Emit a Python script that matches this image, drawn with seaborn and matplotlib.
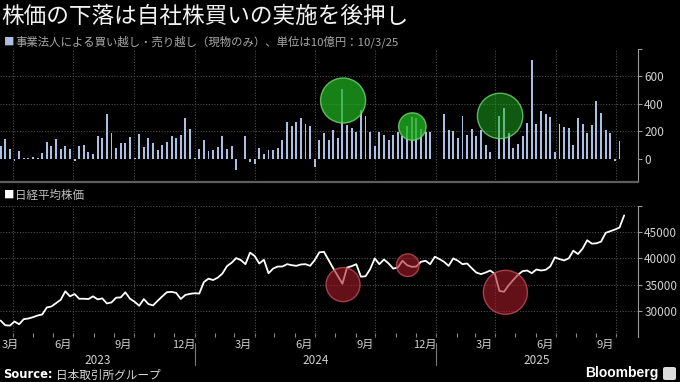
import numpy as np
import pandas as pd
import matplotlib
matplotlib.use("Agg")
import matplotlib.pyplot as plt
import matplotlib.dates as mdates
from matplotlib.patches import FancyBboxPatch
import seaborn as sns

sns.set_theme(style="dark")
plt.rcParams["font.family"] = ["Noto Sans CJK JP", "DejaVu Sans"]

# ---------------- data ----------------
start_date = "2023-03-13"
# weekly net buying by corporates (cash), 10 bn yen
net_buy = [90, 145, 73, -19, 53, 8, 5, 15, 6, 44, 119, 94, 145, 70, 94, 68, -19, 90, 97, 48,
           36, 162, 148, 327, 189, 75, 114, 114, 155, 5, 177, 82, 152, 114, 60,
           102, 121, 162, 150, 172, 295, 213, 2, 68, 136, 53, 61, 85, 162, 68, 94, -85, 0, 162,
           -24, -36, 77, 36, 61, 61, 77, 138, 264, 235, 264, 295, 254, 235, -60, 133,
           186, 138, 211, 152, 508, 242, 225, 194, 356, 312, 194, 90, 191, 169, 133, 172, 191,
           162, 235, 303, 298, 215, 194, 191, 0, 0, 327, 211, 201, 152, 307, 169, 213, 162,
           206, 102, 48, 0, 312, 370, 189, 80, 109, 162, 261, 714, 249, 348, 324, 300, 48, 249,
           230, 220, 97, 293, 249, 186, 242, 419, 332, 211, 186, -19, 128]
# Nikkei 225 weekly
nikkei = [28140, 27240, 27180, 27950, 27440, 28400, 28530, 28780, 29100, 29300, 30640, 30830,
          31470, 32100, 33720, 32760, 33200, 32300, 32300, 32240, 32760, 32180, 32370, 31410,
          31600, 32500, 32560, 33530, 32300, 31730, 30960, 32240, 31280, 31030, 31920, 32760,
          33550, 33610, 33420, 32260, 33030, 33230, 33350, 33290, 35480, 36130, 35870, 36320,
          37100, 38520, 39160, 40060, 39680, 38900, 41100, 40450, 39030, 39740, 37160, 38060,
          38450, 38450, 38900, 38710, 38580, 38840, 38900, 38580, 39680, 41160,
          41250, 39680, 38130, 36650, 35160, 38260, 38520, 38900, 36520, 36580, 37940, 40000,
          38900, 39800, 39030, 38060, 38260, 39550, 38710, 38390, 38450, 39350, 39550, 38900,
          40320, 39870, 39350, 38580, 40000, 39550, 38900, 39030, 38130, 37290, 37000,
          37300, 37690, 37050, 33780, 33650, 34870, 35900, 36860, 37560, 37690, 37180, 37880,
          37690, 37820, 38460, 40190, 39870, 39620, 40000, 41470, 40830, 41860, 43460, 42820,
          42880, 43200, 44870, 45190, 45510, 45900, 48200]

buy_hl_dates = ["2024-08-13", "2024-11-26", "2025-04-08"]
buy_hl_values = [422, 233, 310]
px_hl_dates = ["2024-08-13", "2024-11-19", "2025-04-16"]
px_hl_values = [35000, 38700, 33530]

buy_ticks = [0, 200, 400, 600, 800]
buy_ticklabels = ["0", "200", "400", "600", ""]
px_ticks = [30000, 35000, 40000, 45000, 50000]
px_ticklabels = ["30000", "35000", "40000", "45000", ""]

title = "株価の下落は自社株買いの実施を後押し"
subtitle = "事業法人による買い越し・売り越し（現物のみ）、単位は10億円：10/3/25"
legend_px = "日経平均株価"
source = "日本取引所グループ"

# ---------------- styles ----------------
BG = "black"
BAR_C = "#a9bfe3"
GRID_C = "#4d4d4d"
TXT_C = "#d0d0d0"
buy_hl_r = [22.5, 13.7, 22.7]          # radii in px
buy_hl_alpha = [0.72, 0.78, 0.5]
px_hl_r = [17, 11.3, 22]
px_hl_alpha = [0.6, 0.6, 0.6]

W, H = 680, 382
def fx(p): return p / W
def fy(p): return 1 - p / H
def r2s(r): return (2 * r * 72 / 100) ** 2

dates = pd.date_range(start_date, periods=len(nikkei), freq="7D")
xnum = mdates.date2num(dates)
xlim = (mdates.date2num(pd.Timestamp("2023-03-12")), mdates.date2num(pd.Timestamp("2025-11-03")))

fig = plt.figure(figsize=(6.8, 3.82), dpi=100, facecolor=BG)
ax_top = fig.add_axes([0, fy(182), fx(638), fy(48.5) - fy(182)])
ax_bot = fig.add_axes([0, fy(337), fx(638), fy(206) - fy(337)])

df_bar = pd.DataFrame({"x": xnum[:len(net_buy)], "v": net_buy})
sns.barplot(data=df_bar, x="x", y="v", native_scale=True, width=0.42, color=BAR_C,
            saturation=1, errorbar=None, linewidth=0, ax=ax_top, zorder=3)

df_line = pd.DataFrame({"x": xnum, "v": nikkei})
sns.lineplot(data=df_line, x="x", y="v", color="white", lw=1.3, ax=ax_bot, zorder=3)

# highlight circles
gface = [(0.13, 0.70, 0.13, a) for a in buy_hl_alpha]
ax_top.scatter(mdates.date2num(pd.to_datetime(buy_hl_dates)), buy_hl_values,
               s=[r2s(r) for r in buy_hl_r], facecolors=gface,
               edgecolors=[(0.45, 0.85, 0.45, 0.8)] * 3, linewidths=1.0, zorder=5)
rface = [(0.66, 0.11, 0.16, a) for a in px_hl_alpha]
ax_bot.scatter(mdates.date2num(pd.to_datetime(px_hl_dates)), px_hl_values,
               s=[r2s(r) for r in px_hl_r], facecolors=rface,
               edgecolors=[(0.75, 0.30, 0.35, 0.8)] * 3, linewidths=1.0, zorder=5)

quarter_starts = pd.date_range("2023-04-01", "2025-10-01", freq="QS")
month_starts = pd.date_range("2023-04-01", "2025-10-01", freq="MS")
label_dates = [pd.Timestamp(d.year, d.month, 15) for d in pd.date_range("2023-03-01", "2025-09-01", freq="QS-MAR")]

for ax, lim, ticks, tl, grid_y in [
        (ax_top, (-170, 800), buy_ticks, buy_ticklabels, [200, 400, 600]),
        (ax_bot, (25000, 50000), px_ticks, px_ticklabels, [30000, 35000, 40000, 45000, 50000])]:
    ax.set_facecolor(BG)
    ax.set_xlim(*xlim)
    ax.set_ylim(*lim)
    ax.grid(False)
    for g in grid_y:
        ax.axhline(g, color=GRID_C, lw=0.8, ls=(0, (1, 1.5)), zorder=1)
    for q in quarter_starts:
        ax.axvline(mdates.date2num(q), color=GRID_C, lw=0.8, ls=(0, (1, 1.5)), zorder=1)
    ax.yaxis.tick_right()
    ax.set_yticks(ticks)
    ax.set_yticklabels(tl)
    ax.tick_params(axis="y", which="major", direction="out", length=3, width=0.8,
                   color="#9a9a9a", labelcolor=TXT_C, labelsize=8.5, pad=1.5, right=True, left=False)
    for s in ["left", "top", "bottom"]:
        ax.spines[s].set_visible(False)
    ax.spines["right"].set_visible(True)
    ax.spines["right"].set_color("#9a9a9a")
    ax.spines["right"].set_linewidth(0.8)
    ax.set_xlabel("")
    ax.set_ylabel("")

ax_top.spines["bottom"].set_visible(True)
ax_top.spines["bottom"].set_color("#5e5e5e")
ax_top.spines["bottom"].set_linewidth(1.6)
ax_top.set_xticks([])
ax_top.tick_params(axis="x", bottom=False, labelbottom=False)

ax_bot.set_xticks(mdates.date2num(label_dates))
ax_bot.set_xticklabels([f"{d.month}月" for d in label_dates])
ax_bot.set_xticks(mdates.date2num(month_starts), minor=True)
ax_bot.tick_params(axis="x", which="major", length=0, labelcolor=TXT_C, labelsize=8, pad=2)
ax_bot.tick_params(axis="x", which="minor", direction="in", length=3, width=0.8,
                   color="#8a8a8a", bottom=True)
ax_bot.get_xticklabels()[0].set_ha("left")

# year labels and dividers
trans = ax_bot.get_xaxis_transform()
y_year = -(360 - 337) / 131
for yd in ["2024-01-01", "2025-01-01"]:
    ax_bot.plot([mdates.date2num(pd.Timestamp(yd))] * 2, [-0.045, -0.215], transform=trans,
                color="#7a7a7a", lw=0.8, clip_on=False)
year_bounds = [xlim[0], mdates.date2num(pd.Timestamp("2024-01-01")),
               mdates.date2num(pd.Timestamp("2025-01-01")), xlim[1]]
for i, yr in enumerate(["2023", "2024", "2025"]):
    ax_bot.text((year_bounds[i] + year_bounds[i + 1]) / 2, y_year, yr, transform=trans,
                ha="center", va="center", color=TXT_C, fontsize=8.5)

# texts
fig.text(fx(1), fy(16), title, color="#f2f2f2", fontsize=16.3, ha="left", va="center")
fig.text(fx(4), fy(42), "■", color=BAR_C, fontsize=7.5, ha="left", va="center")
fig.text(fx(15), fy(42), subtitle, color="#a8a8a8", fontsize=8.2, ha="left", va="center")
fig.text(fx(4), fy(195), "■", color="white", fontsize=7.5, ha="left", va="center")
fig.text(fx(15), fy(195), legend_px, color="#c0c0c0", fontsize=8.3, ha="left", va="center")
fig.text(fx(3), fy(375), "Source:", color="white", fontsize=8.3, fontweight="bold",
         ha="left", va="center", family=["DejaVu Sans"])
fig.text(fx(56), fy(375), source, color="#d8d8d8", fontsize=8.4, ha="left", va="center")
fig.text(fx(658), fy(373), "Bloomberg", color="white", fontsize=10, fontweight="bold",
         ha="right", va="center", family=["Liberation Sans", "DejaVu Sans"])
fig.add_artist(FancyBboxPatch((fx(663), fy(380)), fx(13), fy(367) - fy(380),
                              boxstyle="round,pad=0,rounding_size=0.004",
                              transform=fig.transFigure, facecolor="#dddddd", edgecolor="none"))

fig.savefig("out.png", dpi=100, facecolor=BG)
